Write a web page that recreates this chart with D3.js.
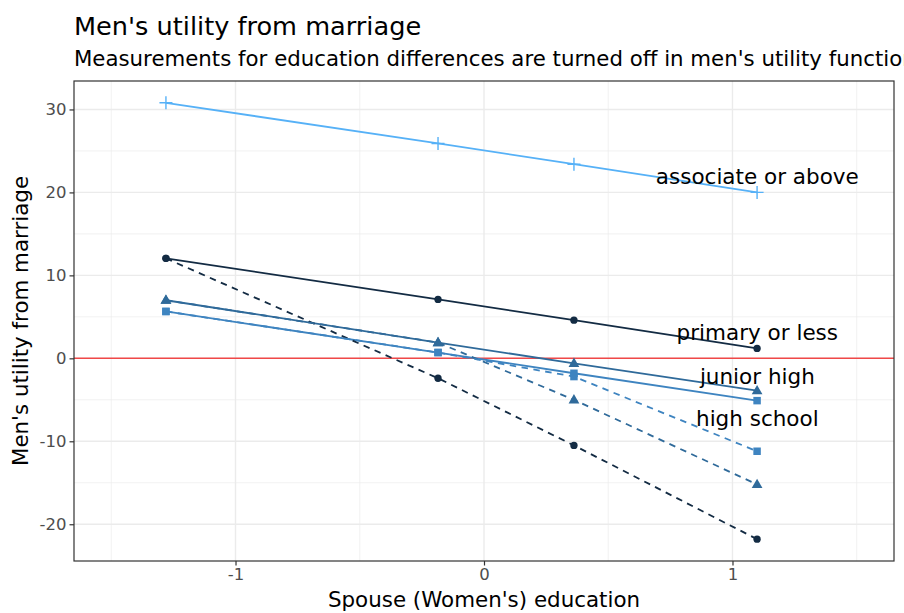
<!DOCTYPE html>
<html>
<head>
<meta charset="utf-8">
<script src="https://cdn.jsdelivr.net/npm/d3@7"></script>
<style>
  body { margin: 0; background: #fff; }
  svg { font-family: "DejaVu Sans", sans-serif; display: block; }
</style>
</head>
<body>
<div id="chart"></div>
<script>
// spouse education (standardised) at which utility is evaluated
const spouseEdu = [-1.28, -0.185, 0.362, 1.099];

// men's own education groups
const groups = ["primary or less", "junior high", "high school", "associate or above"];
const groupColors = ["#132B43", "#2F6A9A", "#3E84C0", "#56B1F7"];
const groupShapes = ["circle", "triangle", "square", "cross"];

// utility with education differences in men's utility (solid)
const solidPrimary = [12.05, 7.1, 4.6, 1.2];
const solidJunior = [7.0, 1.9, -0.6, -3.9];
const solidHigh = [5.65, 0.7, -1.8, -5.1];
const solidAssoc = [30.8, 25.9, 23.4, 20.0];

// utility with measurements turned off (dashed)
const dashPrimary = [12.05, -2.4, -10.5, -21.8];
const dashJunior = [7.0, 1.9, -5.0, -15.2];
const dashHigh = [5.65, 0.7, -2.2, -11.2];

// text labels placed near the right end of each line
const labelX = 1.1;
const labelY = [3.1, -2.2, -7.2, 21.9];

const xTicks = [-1, 0, 1];
const yTicks = [-20, -10, 0, 10, 20, 30];

const width = 904, height = 613;
const margin = {top: 81, right: 10, bottom: 52, left: 74};
const pw = width - margin.left - margin.right;
const ph = height - margin.top - margin.bottom;

const series = [
  {g: 0, values: solidPrimary, dashed: false},
  {g: 1, values: solidJunior, dashed: false},
  {g: 2, values: solidHigh, dashed: false},
  {g: 3, values: solidAssoc, dashed: false},
  {g: 0, values: dashPrimary, dashed: true},
  {g: 1, values: dashJunior, dashed: true},
  {g: 2, values: dashHigh, dashed: true}
];

const allY = series.flatMap(s => s.values);
const yMin = d3.min(allY), yMax = d3.max(allY);
const yPad = (yMax - yMin) * 0.05;

const x = d3.scaleLinear().domain([-1.65, 1.65]).range([0, pw]);
const y = d3.scaleLinear().domain([yMin - yPad, yMax + yPad]).range([ph, 0]);

const svg = d3.select("#chart").append("svg")
  .attr("width", width)
  .attr("height", height);

svg.append("rect").attr("width", width).attr("height", height).attr("fill", "#fff");

// titles
svg.append("text")
  .attr("x", margin.left).attr("y", 35)
  .style("font-size", "25.6px").attr("fill", "#000")
  .text("Men's utility from marriage");
svg.append("text")
  .attr("x", margin.left).attr("y", 66)
  .style("font-size", "21.3px").attr("fill", "#000")
  .text("Measurements for education differences are turned off in men's utility function");

const g = svg.append("g").attr("transform", `translate(${margin.left},${margin.top})`);

// grid
const xMinor = [-1.5, -0.5, 0.5, 1.5];
const yMinor = [-25, -15, -5, 5, 15, 25].filter(v => v > y.domain()[0] && v < y.domain()[1]);
g.append("g").selectAll("line").data(xMinor).enter().append("line")
  .attr("x1", d => x(d)).attr("x2", d => x(d)).attr("y1", 0).attr("y2", ph)
  .attr("stroke", "#EBEBEB").attr("stroke-width", 0.7);
g.append("g").selectAll("line").data(yMinor).enter().append("line")
  .attr("y1", d => y(d)).attr("y2", d => y(d)).attr("x1", 0).attr("x2", pw)
  .attr("stroke", "#EBEBEB").attr("stroke-width", 0.7);
g.append("g").selectAll("line").data(xTicks).enter().append("line")
  .attr("x1", d => x(d)).attr("x2", d => x(d)).attr("y1", 0).attr("y2", ph)
  .attr("stroke", "#EBEBEB").attr("stroke-width", 1.4);
g.append("g").selectAll("line").data(yTicks).enter().append("line")
  .attr("y1", d => y(d)).attr("y2", d => y(d)).attr("x1", 0).attr("x2", pw)
  .attr("stroke", "#EBEBEB").attr("stroke-width", 1.4);

// zero reference line
g.append("line")
  .attr("x1", 0).attr("x2", pw).attr("y1", y(0)).attr("y2", y(0))
  .attr("stroke", "#F04848").attr("stroke-width", 1.5);

// lines
const line = d3.line().x((d, i) => x(spouseEdu[i])).y(d => y(d));
g.append("g").selectAll("path").data(series).enter().append("path")
  .attr("d", s => line(s.values))
  .attr("fill", "none")
  .attr("stroke", s => groupColors[s.g])
  .attr("stroke-width", 1.8)
  .attr("stroke-dasharray", s => s.dashed ? "6.5,5.5" : null);

// points
const pts = series.flatMap(s => s.values.map((v, i) => ({g: s.g, x: spouseEdu[i], y: v})));
const symbolFor = {
  circle: d3.symbol(d3.symbolCircle, 42),
  triangle: d3.symbol(d3.symbolTriangle, 50),
  square: d3.symbol(d3.symbolSquare, 56),
  cross: null
};
const ptG = g.append("g");
pts.forEach(p => {
  const shape = groupShapes[p.g];
  const col = groupColors[p.g];
  const px = x(p.x), py = y(p.y);
  if (shape === "cross") {
    ptG.append("path")
      .attr("d", `M${px - 6.5},${py}H${px + 6.5}M${px},${py - 6.5}V${py + 6.5}`)
      .attr("stroke", col).attr("stroke-width", 1.4).attr("fill", "none");
  } else {
    ptG.append("path")
      .attr("transform", `translate(${px},${py + (shape === "triangle" ? 0.5 : 0)})`)
      .attr("d", symbolFor[shape]())
      .attr("fill", col);
  }
});

// labels
g.append("g").selectAll("text").data(groups).enter().append("text")
  .attr("x", x(labelX)).attr("y", (d, i) => y(labelY[i]))
  .attr("text-anchor", "middle").attr("dy", "0.36em")
  .style("font-size", "21.5px").attr("fill", "#000")
  .text(d => d);

// panel border
g.append("rect").attr("width", pw).attr("height", ph)
  .attr("fill", "none").attr("stroke", "#333333").attr("stroke-width", 1.2);

// axes
const xAxis = g.append("g").attr("transform", `translate(0,${ph})`)
  .call(d3.axisBottom(x).tickValues(xTicks).tickSize(4.5).tickPadding(3).tickFormat(d3.format("d")));
const yAxis = g.append("g")
  .call(d3.axisLeft(y).tickValues(yTicks).tickSize(4.5).tickPadding(3).tickFormat(d3.format("d")));
[xAxis, yAxis].forEach(a => {
  a.select(".domain").remove();
  a.selectAll(".tick line").attr("stroke", "#333333").attr("stroke-width", 1.2);
  a.selectAll(".tick text").attr("fill", "#4D4D4D")
    .style("font-size", "16.5px").style("font-family", "DejaVu Sans, sans-serif");
});
xAxis.selectAll(".tick text").text(d => d < 0 ? "-" + Math.abs(d) : d);
yAxis.selectAll(".tick text").text(d => d < 0 ? "-" + Math.abs(d) : d);

// axis titles
svg.append("text")
  .attr("x", margin.left + pw / 2).attr("y", 607)
  .attr("text-anchor", "middle").style("font-size", "21.4px").attr("fill", "#000")
  .text("Spouse (Women's) education");
svg.append("text")
  .attr("transform", `translate(28,${margin.top + ph / 2}) rotate(-90)`)
  .attr("text-anchor", "middle").style("font-size", "21.4px").attr("fill", "#000")
  .text("Men's utility from marriage");
</script>
</body>
</html>
